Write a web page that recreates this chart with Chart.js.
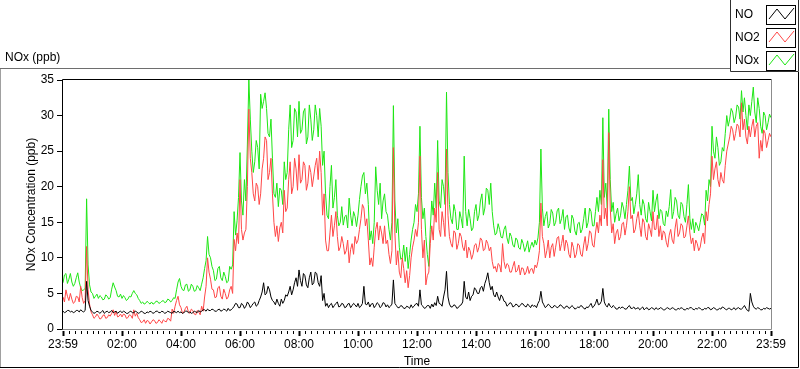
<!DOCTYPE html>
<html>
<head>
<meta charset="utf-8">
<script src="https://cdn.jsdelivr.net/npm/chart.js@4.4.1/dist/chart.umd.min.js"></script>
<style>
html,body{margin:0;padding:0;background:#fff;}
#wrap{position:relative;width:800px;height:369px;}
canvas{display:block;}
</style>
</head>
<body>
<div id="wrap"><canvas id="c" width="800" height="369"></canvas></div>
<script>
// ---- data (one sample every 3 minutes, 23:59 -> 23:59; one line per hour) ----
const SAMPLE_STEP_MIN = 3;
const tickLabels = ['23:59','02:00','04:00','06:00','08:00','10:00','12:00','14:00','16:00','18:00','20:00','22:00','23:59'];
const seriesNames = ['NO','NO2','NOx'];
const seriesColors = ['#000000','#ff4646','#1ee614'];

const noValues = [
2.5,2.3,2.4,2.6,2.6,2.4,2.5,2.3,2.4,2.6,2.6,2.4,2.7,2.5,2.4,2.6,6.7,4.0,3.2,2.6,
2.4,2.2,2.3,2.5,2.4,2.2,2.4,2.6,2.2,2.4,2.5,2.3,2.4,2.6,2.3,2.4,2.5,2.2,2.4,2.5,
2.3,2.5,2.4,2.2,2.2,2.4,2.5,2.3,2.3,2.5,2.4,2.2,2.3,2.5,2.4,2.2,2.2,2.4,2.3,2.5,
2.4,2.2,2.3,2.5,2.5,2.3,2.3,2.5,2.4,2.2,2.3,2.5,2.4,2.3,2.2,2.5,2.4,2.3,2.5,2.3,
2.4,2.2,2.3,2.5,2.5,2.3,2.4,2.2,2.3,2.5,2.4,2.3,2.6,2.4,2.5,2.7,2.7,2.5,2.8,2.6,
2.6,2.8,2.7,2.5,2.5,2.7,2.8,2.5,2.6,2.8,2.7,2.5,2.9,2.6,2.7,2.9,3.2,3.6,3.5,3.0,
3.0,3.6,3.4,2.9,3.2,3.8,3.5,3.0,3.3,3.6,3.8,3.2,3.4,4.0,4.5,5.2,6.5,4.8,5.0,6.0,
5.5,4.5,4.0,3.8,3.4,4.2,3.6,3.2,4.2,3.6,4.0,4.8,4.6,5.2,6.0,4.8,5.5,6.5,7.2,6.0,
8.3,6.8,6.0,7.8,7.5,6.2,5.8,7.2,8.0,6.2,6.5,8.0,7.8,6.5,6.0,7.5,4.0,5.0,3.2,3.6,
3.0,3.4,3.6,3.0,3.3,3.6,3.8,3.1,3.2,3.6,3.5,3.0,3.1,3.5,3.6,3.0,3.3,3.6,3.4,3.1,
3.6,3.0,3.2,3.6,6.0,3.5,3.4,3.8,3.1,3.5,3.6,3.0,3.3,3.7,3.5,3.0,3.2,3.7,3.6,3.1,
3.4,3.0,3.2,3.5,6.9,3.6,3.3,3.0,3.0,3.3,3.2,2.9,2.9,3.2,3.1,2.9,3.4,3.0,3.2,3.5,
3.6,3.2,5.5,3.4,3.2,2.9,3.0,3.3,3.3,2.9,3.5,3.1,3.7,3.3,4.6,3.6,3.5,3.2,4.5,5.5,
8.1,4.5,3.5,3.1,3.1,3.4,3.3,2.9,3.0,3.3,3.4,3.8,6.7,4.5,4.2,5.2,4.0,4.6,4.8,5.8,
5.5,5.0,5.0,5.8,6.0,5.3,6.4,7.0,7.9,6.5,5.5,6.0,4.8,4.5,5.2,4.5,4.0,4.8,4.5,3.9,
3.8,3.2,3.4,3.7,3.6,3.1,3.2,3.5,3.4,3.1,3.3,3.6,3.5,3.2,3.1,3.5,3.3,3.0,3.4,3.2,
3.3,3.0,3.6,4.0,5.3,3.8,3.4,3.0,3.2,3.5,3.3,3.0,3.0,3.3,3.2,3.0,3.1,3.4,3.3,3.0,
2.9,3.2,3.2,2.9,3.0,3.3,3.1,2.8,2.9,3.1,3.0,3.3,3.2,2.9,2.8,3.1,3.0,3.3,3.6,3.0,
3.2,3.6,4.2,3.4,3.5,3.9,5.7,3.8,3.3,3.1,3.6,3.2,3.0,3.3,3.1,2.8,2.8,3.1,2.9,3.1,
3.0,2.8,2.8,3.1,3.3,2.9,2.9,3.1,2.8,2.9,3.0,2.7,2.9,3.1,2.7,2.9,3.0,2.7,2.8,3.0,
2.9,2.7,3.0,2.8,2.8,3.0,2.9,2.7,2.7,2.9,3.0,2.8,2.8,3.0,2.9,2.7,2.7,2.9,2.8,3.0,
2.9,2.7,2.7,2.9,2.8,3.0,3.0,2.8,2.7,2.9,2.8,3.0,2.9,2.7,2.7,2.9,2.8,3.0,3.0,2.7,
2.8,3.0,2.9,2.7,2.7,2.9,2.8,3.1,3.0,2.8,2.7,2.9,2.9,2.7,2.8,3.0,2.7,2.9,3.0,2.8,
2.8,3.0,3.3,2.9,2.6,2.5,5.0,3.8,3.2,2.9,2.8,3.0,2.9,2.7,2.7,2.9,2.8,3.0,2.9,2.8,
2.9
];

const no2Values = [
4.5,3.8,5.5,4.6,4.0,5.0,4.2,3.6,3.8,4.6,4.5,3.8,6.0,4.4,3.6,4.0,11.6,5.5,3.5,2.4,
2.0,1.5,1.7,2.1,1.8,1.4,1.5,1.9,2.0,1.5,1.6,2.0,1.8,2.2,2.7,1.9,2.5,1.7,1.8,2.1,
1.7,2.1,2.0,1.5,1.6,2.0,1.9,1.5,2.7,1.8,2.2,1.6,1.3,0.9,1.0,1.3,0.8,1.2,1.1,0.7,
1.0,1.3,1.2,0.8,0.9,1.3,1.1,0.8,1.3,1.1,1.0,1.5,1.4,1.1,2.8,2.2,3.2,4.0,4.6,3.4,
3.0,2.2,2.4,2.9,3.2,2.4,2.2,2.8,2.6,2.1,2.0,2.6,2.4,2.0,3.2,2.5,4.5,6.0,10.0,8.0,
7.0,5.6,5.5,4.4,4.5,5.8,6.0,4.6,4.2,5.6,5.0,4.2,4.5,5.5,6.0,5.0,12.6,11.0,13.5,12.0,
21.0,14.0,12.5,13.5,14.0,20.0,30.9,24.0,22.0,19.0,18.0,20.5,20.0,17.5,19.0,22.5,24.0,27.0,26.5,21.0,
22.0,24.0,19.0,15.0,13.0,14.5,12.3,14.2,15.0,13.5,19.5,16.5,17.0,21.0,23.5,19.0,20.0,24.0,22.5,19.5,
24.5,20.5,21.0,23.5,23.0,19.5,20.5,23.0,22.0,20.0,21.5,23.0,24.0,21.0,25.0,22.0,16.0,19.0,12.5,11.0,
11.0,13.5,16.0,13.0,14.5,16.5,13.0,11.0,11.5,13.0,12.0,10.5,11.0,12.5,9.3,11.2,12.0,10.5,13.0,12.0,
12.5,14.0,15.5,17.5,17.0,14.5,15.5,12.5,9.0,10.0,8.8,11.5,14.0,15.0,12.5,14.5,13.5,12.0,14.5,12.0,
12.5,10.5,9.2,11.0,25.5,13.5,9.0,11.0,8.0,7.2,10.0,8.5,6.5,8.2,5.8,7.5,10.0,11.5,12.5,14.0,
13.0,15.0,24.3,14.0,10.0,12.5,6.2,7.5,8.0,12.0,14.5,12.5,17.0,15.0,22.0,14.0,13.0,16.5,15.0,13.0,
25.3,16.0,13.0,12.0,11.5,13.8,13.5,11.2,12.0,13.5,13.0,11.5,11.0,12.5,10.0,11.5,11.0,9.8,10.5,11.8,
12.0,10.8,11.5,12.8,12.5,11.0,11.2,12.5,12.0,11.0,11.5,9.5,8.5,8.8,8.0,9.2,9.0,8.0,12.0,9.5,
8.5,9.2,9.0,8.0,8.0,8.8,9.5,8.0,8.2,9.0,7.6,8.6,8.5,7.6,8.0,8.8,7.8,8.4,8.5,7.8,
9.0,8.6,9.5,11.0,17.7,13.0,12.0,10.0,11.0,12.5,10.0,11.5,12.0,10.2,11.5,12.8,13.0,11.0,12.0,13.2,
11.0,12.5,12.0,10.5,10.0,12.2,11.5,10.0,10.5,12.0,11.8,10.5,10.2,11.8,13.0,11.0,12.0,13.8,13.5,11.8,
11.5,13.5,15.0,13.5,16.0,14.5,23.8,15.5,17.0,14.5,27.6,17.0,13.5,14.8,12.0,13.5,14.0,12.5,13.0,14.8,
15.0,13.2,14.5,16.5,20.0,15.5,16.0,13.5,14.0,15.5,16.5,14.5,13.0,15.5,15.0,13.0,12.5,14.8,14.0,13.0,
16.5,14.0,14.0,16.0,13.0,14.5,12.5,13.8,13.5,12.2,11.5,13.2,14.0,12.5,12.0,14.2,15.5,13.0,13.5,14.8,
14.5,12.8,13.0,14.5,15.9,13.5,12.0,12.8,11.0,12.5,12.0,11.0,11.5,12.8,13.5,12.0,16.5,15.2,17.5,19.0,
24.3,21.0,22.5,23.5,21.0,20.0,22.0,21.0,20.5,23.0,25.0,26.0,27.0,28.5,28.0,26.5,27.5,28.8,28.5,27.0,
31.8,28.0,29.5,27.0,26.0,28.5,27.0,28.5,29.5,27.0,28.5,29.0,24.0,26.5,25.0,28.0,27.5,25.5,26.5,27.5,
27.0
];

const noxValues = [
6.5,7.6,7.8,6.4,7.0,7.8,6.6,6.0,6.4,7.2,7.9,6.6,5.8,5.4,5.5,5.7,18.3,9.0,6.2,5.2,
5.0,4.3,4.6,4.9,4.3,4.7,4.5,4.1,4.2,4.8,4.6,4.2,4.4,5.6,6.5,5.9,5.4,4.6,4.5,4.9,
4.3,4.7,4.4,4.0,4.2,4.6,4.5,5.0,5.4,5.0,4.8,4.3,4.0,3.6,3.8,3.5,3.6,3.9,3.7,3.5,
3.8,3.5,3.6,3.9,3.9,3.6,3.7,3.9,4.0,3.7,3.8,4.2,4.1,3.8,4.0,4.4,4.3,5.5,6.6,7.1,
6.0,5.5,5.4,6.2,6.3,5.3,5.5,6.3,6.0,5.3,5.4,6.1,5.8,5.4,6.3,7.2,8.5,9.6,13.0,10.5,
10.0,8.8,8.2,6.8,7.0,8.5,8.8,7.2,6.8,8.0,7.4,6.5,6.7,8.8,8.4,9.0,16.5,13.2,15.2,18.5,
24.8,18.0,16.0,21.0,18.0,26.0,35.0,29.5,25.0,22.0,23.5,26.5,25.5,22.5,33.0,31.0,32.0,33.2,31.0,27.5,
27.0,29.5,24.0,19.0,18.5,20.5,17.2,19.8,19.5,17.5,23.5,21.0,22.0,28.0,31.5,25.5,26.5,31.0,30.5,27.0,
32.0,27.5,28.0,30.5,31.0,26.0,27.0,31.5,29.5,26.5,28.0,31.5,30.0,27.0,31.0,28.5,23.0,25.0,19.0,16.0,
15.5,20.0,23.0,17.0,18.5,21.0,16.0,14.5,15.0,17.2,14.6,15.8,16.0,14.2,18.4,16.0,14.5,16.5,15.8,14.4,
16.0,18.2,20.0,21.5,22.0,19.0,20.5,17.5,12.5,13.8,12.0,15.0,22.8,19.5,17.5,20.5,15.5,18.0,19.0,16.5,
16.0,14.0,12.5,15.0,31.4,18.0,13.5,15.5,11.5,9.8,10.0,11.8,9.5,11.5,8.5,10.5,12.5,14.0,15.0,17.5,
16.5,19.0,28.5,18.5,15.5,17.0,13.0,10.5,8.8,14.0,18.0,16.0,20.5,17.0,26.5,18.0,17.0,21.0,20.0,17.5,
33.3,22.0,17.5,15.5,14.8,17.5,16.5,14.0,14.0,16.5,15.5,14.2,24.3,16.5,14.5,16.8,15.5,13.8,14.2,16.5,
17.5,15.2,16.0,18.0,19.0,16.0,17.0,19.8,19.5,17.5,20.5,16.5,14.5,13.2,13.5,14.8,14.0,12.9,12.8,14.0,
14.5,12.8,12.0,13.5,13.0,11.8,11.5,12.8,12.5,11.4,11.2,12.6,12.0,10.9,11.5,12.4,10.8,11.6,12.2,11.5,
12.5,11.8,12.8,15.0,25.3,17.0,14.5,15.8,16.5,14.2,14.8,16.8,16.3,14.5,15.0,16.6,17.0,14.8,15.5,16.8,
14.0,15.8,16.0,14.2,13.5,16.0,15.5,13.8,13.2,14.8,15.0,13.5,14.0,15.5,17.0,14.2,15.0,17.0,16.5,14.5,
14.5,16.5,18.5,16.5,19.5,17.5,29.7,18.5,20.5,17.0,30.9,21.0,16.5,17.8,15.0,16.2,17.0,15.2,16.0,17.8,
17.0,15.5,17.5,19.5,22.9,18.0,18.5,16.2,17.5,19.0,21.7,17.5,16.0,18.2,17.5,15.5,15.0,17.8,16.5,15.2,
19.5,16.5,18.0,19.0,15.5,16.8,16.5,14.8,14.5,16.6,15.8,17.2,19.6,15.5,16.5,18.5,18.0,16.0,15.5,17.8,
17.5,15.8,15.0,17.5,20.3,15.5,14.0,15.5,13.5,15.0,14.5,13.8,15.0,16.2,16.0,14.6,19.5,18.0,21.0,20.0,
28.5,25.0,24.0,27.0,25.5,23.0,23.5,25.5,25.0,27.5,30.0,28.5,29.5,31.0,30.5,29.0,29.8,31.5,31.2,29.5,
33.5,30.5,32.5,30.0,28.0,31.5,30.0,32.0,34.0,30.5,29.0,32.5,31.0,28.5,27.5,30.5,30.0,28.0,29.0,30.2,
29.7
];

const seriesValues = [noValues, no2Values, noxValues];
const FONT = '"Liberation Sans", Arial, sans-serif';

function toPoints(vals){
  return vals.map((v,i)=>({x:i*SAMPLE_STEP_MIN, y:v}));
}

// frame, plot border, x ticks, legend
const decor = {
  id:'decor',
  afterDraw(chart){
    const ctx = chart.ctx;
    const a = chart.chartArea;
    const xs = chart.scales.x;
    ctx.save();
    // plot border (sunken look)
    ctx.lineWidth = 1;
    ctx.strokeStyle = '#000';
    ctx.beginPath();
    ctx.moveTo(a.left-0.5, a.bottom+1); ctx.lineTo(a.left-0.5, a.top-0.5); ctx.lineTo(a.right+0.5, a.top-0.5);
    ctx.stroke();
    ctx.strokeStyle = '#8c8c8c';
    ctx.beginPath();
    ctx.moveTo(a.right+0.5, a.top-0.5); ctx.lineTo(a.right+0.5, a.bottom+0.5); ctx.lineTo(a.left-0.5, a.bottom+0.5);
    ctx.stroke();
    // x ticks, major and minor
    ctx.strokeStyle = '#000';
    const nMajor = tickLabels.length - 1;
    const span = xs.max - xs.min;
    for (let k=0; k<=nMajor*10; k++){
      const v = xs.min + span*k/(nMajor*10);
      const px = Math.round(xs.getPixelForValue(v)) + 0.5;
      const major = (k % 10 === 0);
      ctx.lineWidth = major ? 2 : 1;
      ctx.beginPath();
      ctx.moveTo(px, a.bottom+2);
      ctx.lineTo(px, a.bottom + (major ? 7 : 5));
      ctx.stroke();
    }
    // outer frame
    ctx.lineWidth = 1;
    ctx.strokeStyle = '#a0a0a0';
    ctx.beginPath(); ctx.moveTo(0.5, 68); ctx.lineTo(0.5, 367); ctx.stroke();
    ctx.strokeStyle = '#6e6e6e';
    ctx.beginPath(); ctx.moveTo(0, 68.5); ctx.lineTo(730, 68.5); ctx.stroke();
    ctx.strokeStyle = '#000';
    ctx.beginPath(); ctx.moveTo(0, 367.5); ctx.lineTo(798.5, 367.5); ctx.lineTo(798.5, 72); ctx.stroke();
    // chart title
    ctx.fillStyle = '#000';
    ctx.font = '12px ' + FONT;
    ctx.textBaseline = 'middle';
    ctx.textAlign = 'left';
    ctx.fillText('NOx (ppb)', 5, 58);
    // legend box
    ctx.strokeStyle = '#303030';
    ctx.beginPath(); ctx.moveTo(730.5, 0); ctx.lineTo(730.5, 71.5); ctx.lineTo(798.5, 71.5); ctx.lineTo(798.5, 0); ctx.stroke();
    const rows = [5, 28, 51];
    chart.data.datasets.forEach((ds, i) => {
      const top = rows[i];
      ctx.fillStyle = '#000';
      ctx.fillText(ds.label, 735, top + 9.5);
      ctx.strokeStyle = '#000';
      ctx.lineWidth = 1;
      ctx.strokeRect(766.5, top + 0.5, 29, 19);
      ctx.strokeStyle = ds.borderColor;
      ctx.beginPath();
      ctx.moveTo(769, top+14); ctx.lineTo(777, top+4); ctx.lineTo(785, top+14); ctx.lineTo(794, top+3);
      ctx.stroke();
    });
    ctx.restore();
  }
};

new Chart(document.getElementById('c'), {
  type:'line',
  data:{
    datasets: seriesNames.map((n,i)=>({
      label:n,
      data:toPoints(seriesValues[i]),
      borderColor:seriesColors[i],
      backgroundColor:seriesColors[i],
      borderWidth:1,
      pointRadius:0,
      tension:0,
      fill:false
    }))
  },
  options:{
    responsive:false,
    animation:false,
    events:[],
    layout:{padding:{left:0, top:80, right:29, bottom:0}},
    plugins:{legend:{display:false}, tooltip:{enabled:false}, title:{display:false}},
    scales:{
      x:{
        type:'linear',
        min:0,
        max:(noValues.length-1)*SAMPLE_STEP_MIN,
        afterFit(s){ s.height = 40; },
        afterBuildTicks(s){
          const span = s.max - s.min;
          s.ticks = tickLabels.map((_,i)=>({value: s.min + span*i/(tickLabels.length-1)}));
        },
        ticks:{
          autoSkip:false, maxRotation:0, padding:3,
          color:'#000', font:{family:FONT, size:12},
          callback:(v,i)=>tickLabels[i]
        },
        grid:{display:true, drawOnChartArea:false, drawTicks:true, tickLength:5, color:'rgba(0,0,0,0)'},
        border:{display:false},
        title:{display:true, text:'Time', color:'#000', font:{family:FONT, size:12}, padding:{top:0,bottom:0}}
      },
      y:{
        min:0, max:35,
        afterFit(s){ s.width = 63; },
        ticks:{stepSize:5, padding:3, color:'#000', font:{family:FONT, size:12}},
        grid:{display:true, drawOnChartArea:false, drawTicks:true, tickLength:6, color:'#000'},
        border:{display:false},
        title:{display:true, text:'NOx Concentration (ppb)', color:'#000', font:{family:FONT, size:12}, padding:{top:24,bottom:0}}
      }
    }
  },
  plugins:[decor]
});
</script>
</body>
</html>
